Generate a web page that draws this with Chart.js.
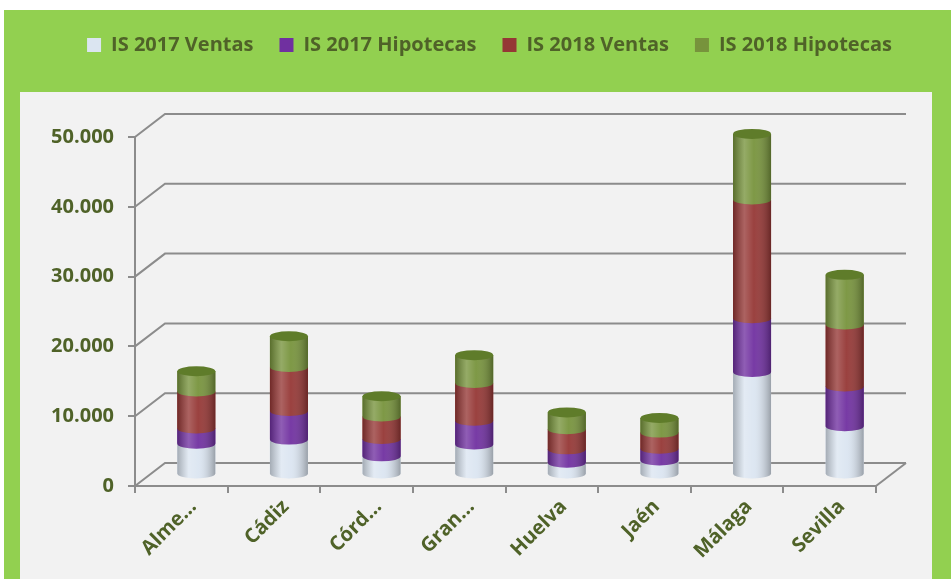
<!DOCTYPE html>
<html>
<head>
<meta charset="utf-8">
<script src="https://cdn.jsdelivr.net/npm/chart.js@4.4.0/dist/chart.umd.min.js"></script>
<style>
html, body { margin: 0; padding: 0; background: #fff; }
#wrap { position: relative; width: 951px; height: 579px; overflow: hidden; }
#verde { position: absolute; left: 4px; top: 10px; width: 947px; height: 569px; background: #92d050; }
#panel { position: absolute; left: 20px; top: 92px; width: 912px; height: 487px; background: #f2f2f2; }
#caja { position: absolute; left: 0; top: 0; width: 951px; height: 579px; }
</style>
</head>
<body>
<div id="wrap">
  <div id="verde"></div>
  <div id="panel"></div>
  <div id="caja"><canvas id="grafico"></canvas></div>
</div>
<script>
// datos
var provincias = ["Alme...", "Cádiz", "Córd...", "Gran...", "Huelva", "Jaén", "Málaga", "Sevilla"];
var ventas2017 = [4400, 5000, 2600, 4300, 1700, 2000, 14700, 6900];
var hipotecas2017 = [2200, 4100, 2500, 3400, 1900, 1700, 7700, 5700];
var ventas2018 = [5300, 6300, 3200, 5400, 2900, 2300, 17000, 8900];
var hipotecas2018 = [2900, 4400, 2900, 4000, 2400, 2100, 9400, 7100];
var ejeMax = 50000;
var ejePaso = 10000;

var verdeTexto = '#4f6228';
var gris = '#8c8c8c';
var fuente = { family: "'Open Sans', sans-serif", size: 20, weight: 'bold' };
var prof = { dx: 30, dy: -23 };

function miles(v) {
    return String(v).replace(/\B(?=(\d{3})+(?!\d))/g, '.');
}

// deja hueco bajo la leyenda
var margenLeyenda = {
    id: 'margenLeyenda',
    beforeInit: function (chart) {
        var fit = chart.legend.fit;
        chart.legend.fit = function () {
            fit.call(this);
            this.height = 128;
        };
    }
};

// paredes 3D y cilindros
var cilindros = {
    id: 'cilindros',
    beforeDatasetsDraw: function (chart) {
        var ctx = chart.ctx, y = chart.scales.y, a = chart.chartArea;
        ctx.save();
        ctx.strokeStyle = gris;
        ctx.lineWidth = 2;
        y.ticks.forEach(function (t) {
            var py = y.getPixelForValue(t.value);
            ctx.beginPath();
            ctx.moveTo(a.left, py);
            ctx.lineTo(a.left + prof.dx, py + prof.dy);
            ctx.lineTo(a.right + prof.dx, py + prof.dy);
            ctx.stroke();
        });
        var p0 = y.getPixelForValue(0);
        ctx.beginPath();
        ctx.moveTo(a.right, p0);
        ctx.lineTo(a.right + prof.dx, p0 + prof.dy);
        ctx.stroke();
        ctx.restore();
        ctx.save();
        ctx.translate(prof.dx / 2, prof.dy / 2);
    },
    afterDatasetsDraw: function (chart) {
        var ctx = chart.ctx;
        var n = chart.data.datasets.length;
        for (var i = 0; i < n; i++) {
            var ds = chart.data.datasets[i];
            chart.getDatasetMeta(i).data.forEach(function (bar) {
                var rx = bar.width / 2, ry = 5, x = bar.x, top = bar.y, base = bar.base;
                ctx.beginPath();
                ctx.moveTo(x - rx, top);
                ctx.lineTo(x + rx, top);
                ctx.lineTo(x + rx, base);
                ctx.ellipse(x, base, rx, ry, 0, 0, Math.PI);
                ctx.closePath();
                ctx.fillStyle = ds.backgroundColor;
                ctx.fill();
                var g = ctx.createLinearGradient(x - rx, 0, x + rx, 0);
                g.addColorStop(0, 'rgba(0,0,0,0.25)');
                g.addColorStop(0.3, 'rgba(255,255,255,0.22)');
                g.addColorStop(0.55, 'rgba(255,255,255,0.05)');
                g.addColorStop(1, 'rgba(0,0,0,0.3)');
                ctx.fillStyle = g;
                ctx.fill();
                if (i === n - 1) {
                    ctx.beginPath();
                    ctx.ellipse(x, top, rx, ry, 0, 0, Math.PI * 2);
                    ctx.fillStyle = ds.tapa;
                    ctx.fill();
                }
            });
        }
        ctx.restore();
    }
};

var area = document.getElementById("grafico").getContext("2d");
var urChart = new Chart(area, {
    type: 'bar',
    data: {
        labels: provincias,
        datasets: [{
            label: "IS 2017 Ventas",
            data: ventas2017,
            backgroundColor: '#dbe5f1',
            tapa: '#dbe5f1'
        }, {
            label: "IS 2017 Hipotecas",
            data: hipotecas2017,
            backgroundColor: '#7030a0',
            tapa: '#6a2c98'
        }, {
            label: "IS 2018 Ventas",
            data: ventas2018,
            backgroundColor: '#953735',
            tapa: '#8a3230'
        }, {
            label: "IS 2018 Hipotecas",
            data: hipotecas2018,
            backgroundColor: '#77933c',
            tapa: '#5f7c2a'
        }]
    },
    options: {
        responsive: true,
        maintainAspectRatio: false,
        animation: false,
        categoryPercentage: 1,
        barPercentage: 0.41,
        layout: {
            padding: { top: 9, left: 28, right: 0, bottom: 0 }
        },
        scales: {
            x: {
                stacked: true,
                afterFit: function (scale) { scale.height = 93; },
                grid: {
                    drawOnChartArea: false,
                    color: gris,
                    lineWidth: 2,
                    tickLength: 7
                },
                border: { color: gris, width: 2 },
                ticks: {
                    color: verdeTexto,
                    font: fuente,
                    minRotation: 45,
                    maxRotation: 45,
                    labelOffset: 12,
                    padding: 2,
                    autoSkip: false
                }
            },
            y: {
                stacked: true,
                min: 0,
                max: ejeMax,
                afterFit: function (scale) { scale.width = 107; },
                grid: {
                    drawOnChartArea: false,
                    color: gris,
                    lineWidth: 2,
                    tickLength: 7
                },
                border: { color: gris, width: 2 },
                ticks: {
                    stepSize: ejePaso,
                    color: verdeTexto,
                    font: fuente,
                    padding: 14,
                    callback: function (value) { return miles(value); }
                }
            },
            margenDer: {
                type: 'linear',
                position: 'right',
                afterFit: function (scale) { scale.width = 75; },
                grid: { display: false },
                border: { display: false },
                ticks: { display: false }
            }
        },
        plugins: {
            legend: {
                position: 'top',
                align: 'center',
                labels: {
                    color: verdeTexto,
                    font: fuente,
                    boxWidth: 14,
                    boxHeight: 14,
                    padding: 26
                }
            },
            tooltip: { enabled: false }
        }
    },
    plugins: [margenLeyenda, cilindros]
});
</script>
</body>
</html>
